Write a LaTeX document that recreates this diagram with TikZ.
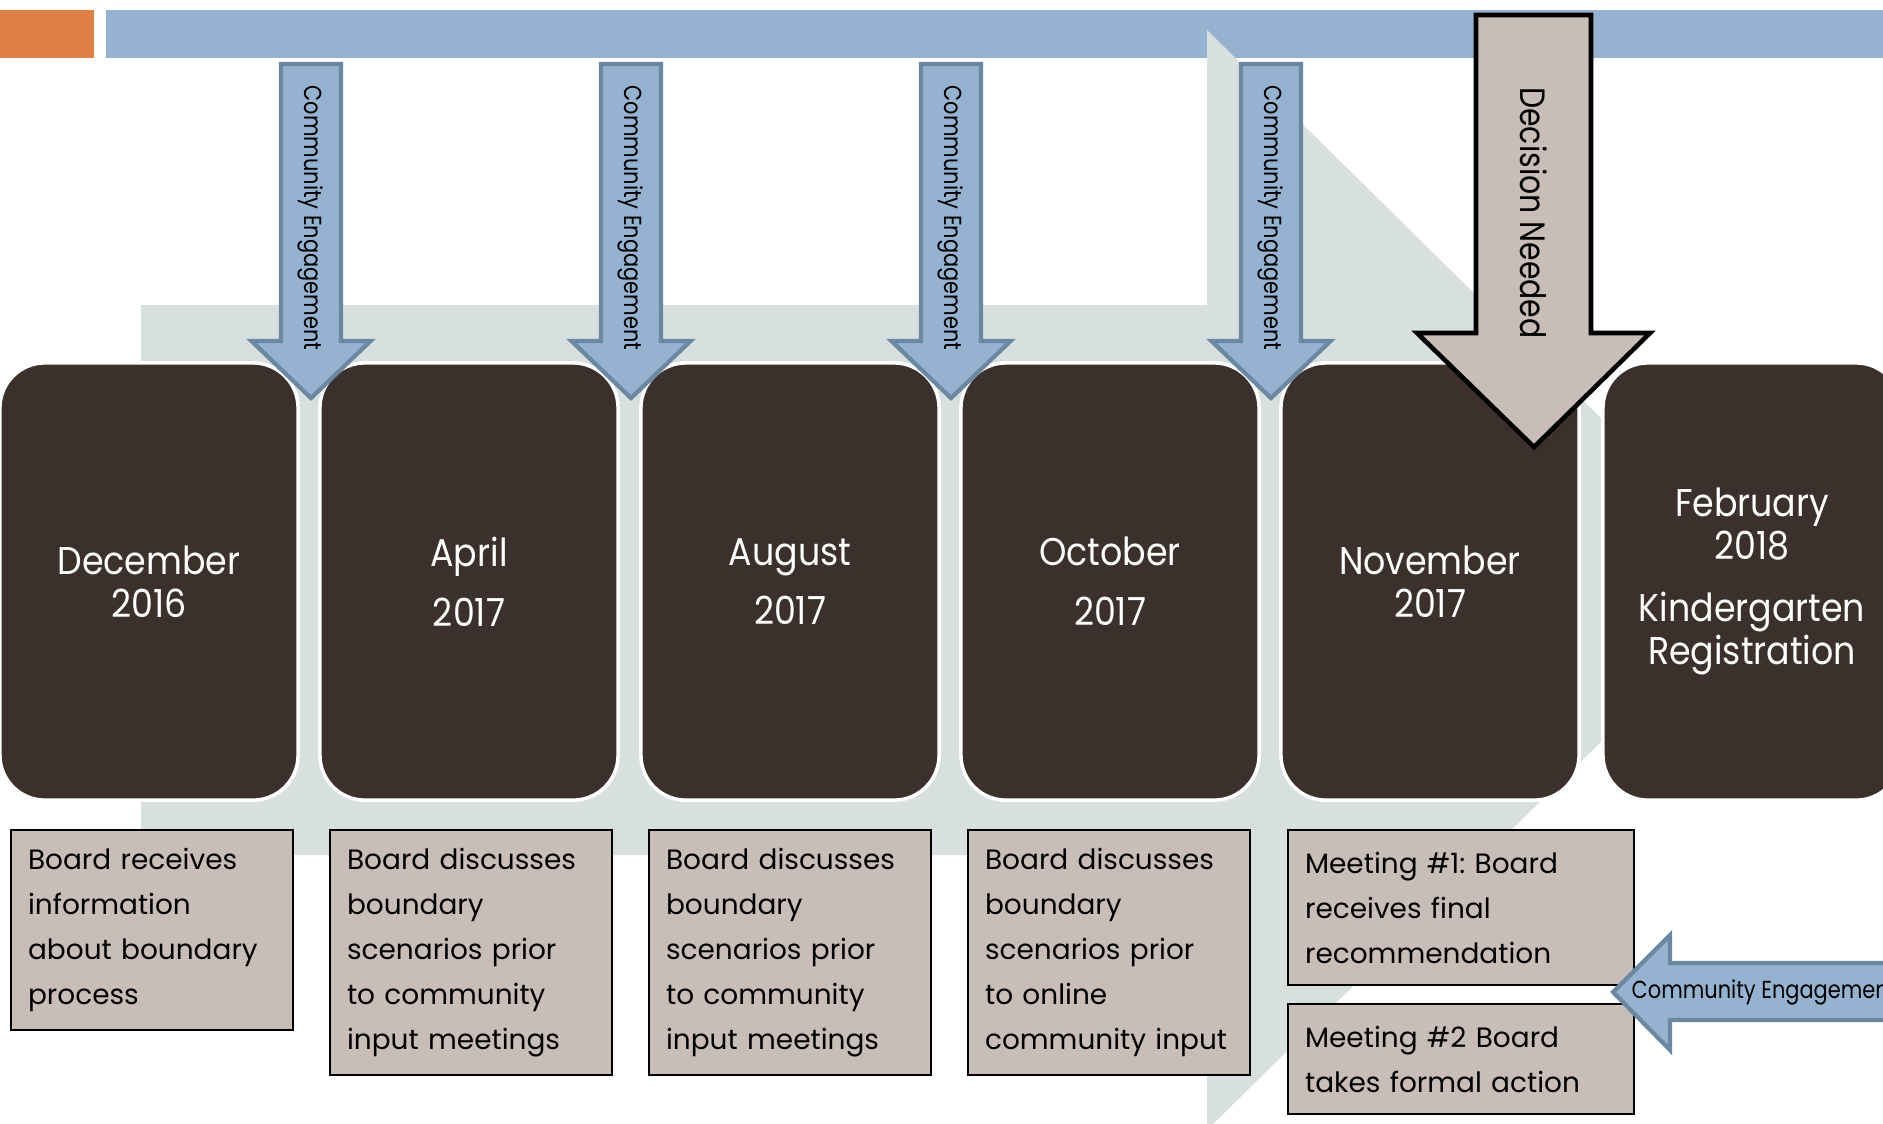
\documentclass[tikz,border=0pt]{standalone}
\usepackage{fontspec}
\setmainfont{Poppins}
\newfontfamily\narrowfont{Poppins}[FakeStretch=0.85]
\newfontfamily\datefont{Poppins}[FakeStretch=0.9]
\hyphenpenalty=10000
\frenchspacing
\definecolor{titleblue}{RGB}{149,179,208}
\definecolor{titleorange}{RGB}{223,128,71}
\definecolor{edgeblue}{RGB}{106,136,162}
\definecolor{pathgray}{RGB}{215,224,223}
\definecolor{monthbrown}{RGB}{59,48,43}
\definecolor{notetaupe}{RGB}{201,189,184}
\tikzset{
  month/.style={draw=white, line width=1pt, fill=monthbrown, rounded corners=0.45cm,
    minimum width=2.98cm, minimum height=4.37cm, text=white, align=center,
    font=\datefont\fontsize{11}{12.2}\selectfont},
  note/.style={draw=black, line width=0.6pt, fill=notetaupe, anchor=north west,
    align=left, inner xsep=0.17cm, inner ysep=0pt,
    font=\fontsize{7.95}{12.8}\selectfont},
  engage/.style={fill=titleblue, draw=edgeblue, line width=1.2pt},
  engagetext/.style={font=\narrowfont\fontsize{7}{8}\selectfont, inner sep=0pt},
  decide/.style={fill=notetaupe, draw=black, line width=1.3pt},
}
\begin{document}
\begin{tikzpicture}[x=0.01cm, y=-0.01cm]
    \useasboundingbox (0,0) rectangle (1883,1123);
    \clip (0,0) rectangle (1883,1123);
    \fill[white] (0,0) rectangle (1883,1123);
    \fill[titleorange] (0,10) rectangle (94,58);
    \fill[titleblue] (106,10) rectangle (1900,58);
    \fill[pathgray] (141,305) -- (1207,305) -- (1207,30) -- (1765,580) -- (1207,1130) -- (1207,855) -- (141,855) -- cycle;

    \node[month] (dec) at (149,581.5) {December\\2016};
    \node[month] (apr) at (469,581.5) {April\\[4.8pt]2017};
    \node[month] (aug) at (790,581.5) {August\\[4.8pt]2017};
    \node[month] (oct) at (1110,581.5) {October\\[4.8pt]2017};
    \node[month] (nov) at (1430,581.5) {November\\2017};
    \node[month] (feb) at (1752,581.5) {February\\2018\\[5.4pt]Kindergarten\\Registration};

    \node[note, text width=2.48cm, minimum height=2cm] (decnote) at (10,829) {Board receives\\information\\about boundary\\process};
    \node[note, text width=2.48cm, minimum height=2.45cm] (aprnote) at (329,829) {Board discusses\\boundary\\scenarios prior\\to community\\input meetings};
    \node[note, text width=2.48cm, minimum height=2.45cm] (augnote) at (648,829) {Board discusses\\boundary\\scenarios prior\\to community\\input meetings};
    \node[note, text width=2.48cm, minimum height=2.45cm] (octnote) at (967,829) {Board discusses\\boundary\\scenarios prior\\to online\\community input};
    \node[note, text width=3.12cm, minimum height=1.55cm] (meetone) at (1287,829) {Meeting \#1: Board\\receives final\\recommendation};
    \node[note, text width=3.12cm, minimum height=1.1cm] (meettwo) at (1287,1003) {Meeting \#2 Board\\takes formal action};

    \foreach \c/\n in {311/a, 631/b, 951/c, 1271/d} {
      \draw[engage] ({\c-30},64) -- ({\c+30},64) -- ({\c+30},341) -- ({\c+59.5},341) -- (\c,398)
        -- ({\c-59.5},341) -- ({\c-30},341) -- cycle;
      \node[engagetext, rotate=-90] (engage\n) at (\c,218) {Community Engagement};
    }

    \draw[decide] (1476,15) -- (1591,15) -- (1591,333) -- (1650,333) -- (1534,447) -- (1417,333) -- (1476,333) -- cycle;
    \node[rotate=-90, inner sep=0pt, font=\narrowfont\fontsize{10}{12}\selectfont] (decision) at (1534,213) {Decision Needed};

    \draw[engage] (1613,992) -- (1670,935) -- (1670,963) -- (1950,963) -- (1950,1020) -- (1670,1020) -- (1670,1050) -- cycle;
    \node[engagetext, anchor=west] (engagee) at (1631,992) {Community Engagement};
\end{tikzpicture}
\end{document}
